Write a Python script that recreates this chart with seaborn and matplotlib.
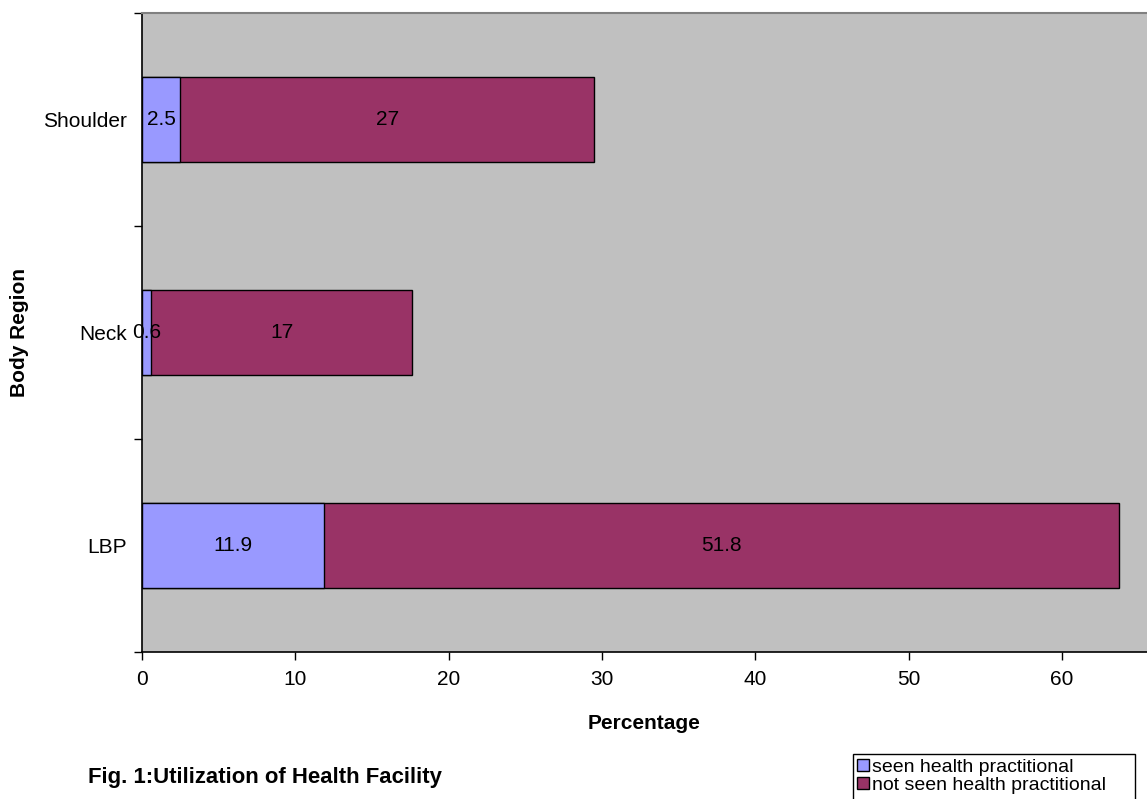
import matplotlib
matplotlib.use("Agg")
import matplotlib.pyplot as plt
import seaborn as sns
import pandas as pd
from matplotlib.patches import Patch, Rectangle

regions = ["Shoulder", "Neck", "LBP"]
seen = [2.5, 0.6, 11.9]
not_seen = [27, 17, 51.8]
seen_labels = ["2.5", "0.6", "11.9"]
not_seen_labels = ["27", "17", "51.8"]
x_ticks = [0, 10, 20, 30, 40, 50, 60]

c_seen = "#9999FF"
c_not = "#993366"

sns.set_theme(style="white")
plt.rcParams['font.family'] = ['Liberation Sans', 'DejaVu Sans']
plt.rcParams['text.color'] = 'black'
plt.rcParams['axes.labelcolor'] = 'black'
plt.rcParams['xtick.color'] = 'black'
plt.rcParams['ytick.color'] = 'black'

FS = 15

df = pd.DataFrame({"region": regions, "seen": seen, "not_seen": not_seen})
df["total"] = df["seen"] + df["not_seen"]

fig = plt.figure(figsize=(11.47, 7.99), dpi=100)
ax = fig.add_axes([142/1147, (799-652)/799, 1 - 142/1147, (652-13)/799])
ax.set_facecolor("#C0C0C0")

sns.barplot(data=df, x="total", y="region", order=regions, orient="h",
            color=c_not, width=0.4, edgecolor="black", linewidth=1.0,
            saturation=1, ax=ax)
sns.barplot(data=df, x="seen", y="region", order=regions, orient="h",
            color=c_seen, width=0.4, edgecolor="black", linewidth=1.0,
            saturation=1, ax=ax)

for i, r in enumerate(regions):
    ax.text(seen[i] / 2, i, seen_labels[i], ha="center", va="center", fontsize=FS, color="black")
    ax.text(seen[i] + not_seen[i] / 2, i, not_seen_labels[i], ha="center", va="center", fontsize=FS, color="black")

ax.set_xlim(0, 65.55)
ax.set_ylim(2.5, -0.5)
ax.set_xticks(x_ticks)
ax.set_xticklabels([str(v) for v in x_ticks], fontsize=FS)
ax.set_yticks([-0.5, 0.5, 1.5, 2.5])
ax.set_yticklabels([])
ax.set_yticks([0, 1, 2], minor=True)
ax.set_yticklabels(regions, minor=True, fontsize=FS)
ax.tick_params(axis="y", which="minor", length=0, pad=11)
ax.tick_params(axis="y", which="major", length=6, width=1, direction="out", color="black", left=True)
ax.tick_params(axis="x", length=6, width=1, direction="out", color="black", bottom=True, pad=7)

ax.set_xlabel("Percentage", fontsize=FS, fontweight="bold", labelpad=18)
ax.set_ylabel("Body Region", fontsize=FS, fontweight="bold", labelpad=10)

for s in ["left", "bottom"]:
    ax.spines[s].set_color("black")
    ax.spines[s].set_linewidth(1.2)
ax.spines["top"].set_color("#808080")
ax.spines["top"].set_linewidth(1.5)
ax.spines["right"].set_visible(False)

fig.text(88/1147, 1 - 778/799, "Fig. 1:Utilization of Health Facility", fontsize=15.9,
         fontweight="bold", ha="left", va="center")

# legend frame (extends past the bottom edge as in the reference)
fig.add_artist(Rectangle((853/1147, -0.02), (1135-853)/1147, 0.02 + 1 - 754/799,
                         transform=fig.transFigure, facecolor="white",
                         edgecolor="black", linewidth=1.0))

handles = [Patch(facecolor=c_seen, edgecolor="black", label="seen health practitional"),
           Patch(facecolor=c_not, edgecolor="black", label="not seen health practitional")]
leg = fig.legend(handles=handles, loc="upper left", bbox_to_anchor=(855/1147, 1 - 757/799),
                 fontsize=14, frameon=False,
                 handlelength=0.6, handleheight=0.6, handletextpad=0.2,
                 borderpad=0.1, labelspacing=0.05, borderaxespad=0)

fig.savefig("out.png", dpi=100)
